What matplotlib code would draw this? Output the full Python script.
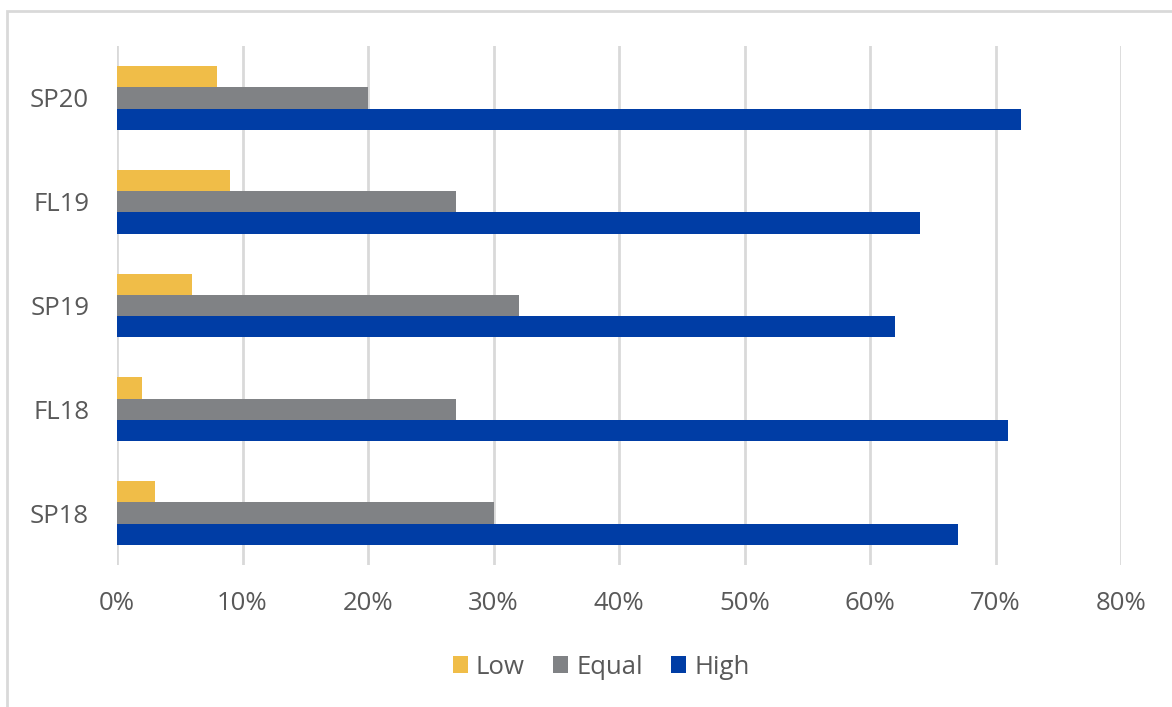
import numpy as np
import matplotlib
matplotlib.use('Agg')
import matplotlib.pyplot as plt
from matplotlib.patches import Rectangle

plt.rcParams['font.family'] = ['Open Sans', 'DejaVu Sans']

terms = ['SP18', 'FL18', 'SP19', 'FL19', 'SP20']
low = [3, 2, 6, 9, 8]
equal = [30, 27, 32, 27, 20]
high = [67, 71, 62, 64, 72]

col_low = '#F0BD48'
col_equal = '#808285'
col_high = '#003DA5'
txt = '#595959'

fig = plt.figure(figsize=(11.72, 7.07), dpi=100)
ax = fig.add_axes([117 / 1172, 1 - 565 / 707, (1121 - 117) / 1172, (565 - 46) / 707])

# outer chart border (runs off the right and bottom edges)
fig.patches.append(Rectangle((7 / 1172, -0.1), 1.2, 1 - 11 / 707 + 0.1,
                             transform=fig.transFigure, fill=False,
                             edgecolor='#D9D9D9', linewidth=2, zorder=0))

y = np.arange(len(terms))
h = 0.205
ax.barh(y + h, low, height=h, color=col_low, label='Low', zorder=3)
ax.barh(y, equal, height=h, color=col_equal, label='Equal', zorder=3)
ax.barh(y - h, high, height=h, color=col_high, label='High', zorder=3)

ax.set_xlim(0, 80)
ax.set_ylim(-0.5, 4.5)
ax.set_xticks(range(0, 81, 10))
ax.set_xticklabels(['%d%%' % v for v in range(0, 81, 10)])
ax.set_yticks(y)
ax.set_yticklabels(terms)
ax.grid(axis='x', color='#D9D9D9', linewidth=2, zorder=0)
ax.grid(axis='y', visible=False)
for s in ax.spines.values():
    s.set_visible(False)
ax.tick_params(axis='both', length=0, colors=txt, labelsize=18.5)
ax.tick_params(axis='x', pad=19)
ax.tick_params(axis='y', pad=20)

leg = fig.legend(loc='center', bbox_to_anchor=(601 / 1172, 1 - 667 / 707), ncol=3,
                 frameon=False, fontsize=18.5, handlelength=0.6, handleheight=0.6,
                 handletextpad=0.3, columnspacing=1.1)
for t in leg.get_texts():
    t.set_color(txt)

plt.savefig('out.png', dpi=100)
